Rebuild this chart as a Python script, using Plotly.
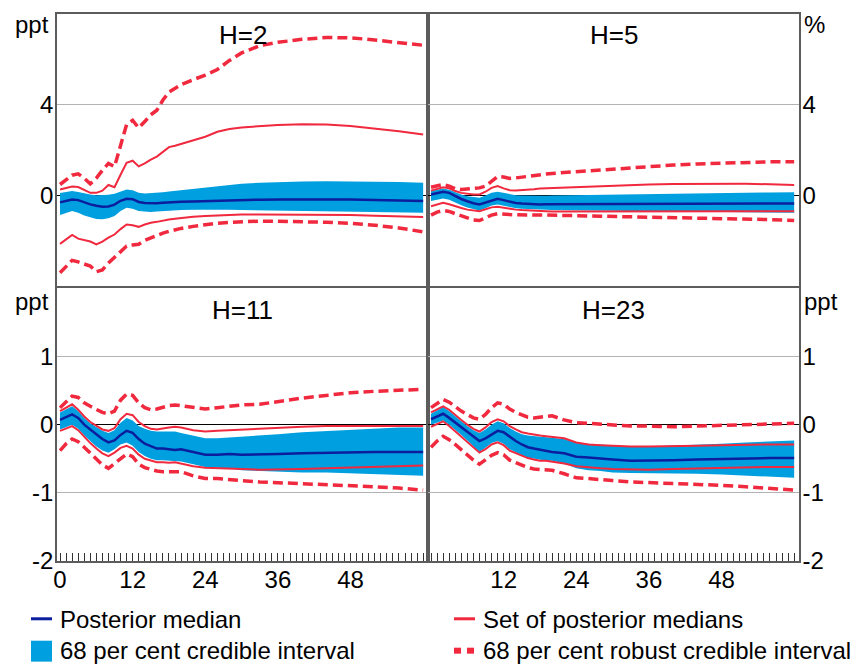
import plotly.graph_objects as go

# ---------------- data (months after shock) ----------------
MONTHS = [0, 1, 2, 3, 4, 5, 6, 7, 8, 9, 10, 11, 12, 13, 14, 15, 16, 17, 18, 19, 20,
          22, 24, 26, 28, 30, 33, 36, 40, 44, 48, 52, 56, 60]

PANEL_TITLES = ["H=2", "H=5", "H=11", "H=23"]
X_TICKS = [0, 12, 24, 36, 48]
TOP_Y_TICKS = [0, 4]
BOT_Y_TICKS = [-2, -1, 0, 1]

# H=2
h2_median = [-0.32,-0.25,-0.19,-0.22,-0.32,-0.41,-0.47,-0.51,-0.50,-0.42,-0.25,-0.16,-0.18,-0.30,-0.35,-0.37,-0.36,-0.34,-0.32,-0.30,-0.29, -0.28,-0.26,-0.24,-0.22,-0.21,-0.20,-0.19,-0.18,-0.18,-0.19,-0.21,-0.23,-0.26]
h2_band_hi = [0.09,0.14,0.18,0.14,0.08,0.03,0.00,0.00,0.02,0.06,0.15,0.25,0.22,0.10,0.07,0.08,0.10,0.13,0.16,0.19,0.22, 0.26,0.31,0.38,0.45,0.50,0.55,0.58,0.60,0.61,0.61,0.60,0.58,0.55]
h2_band_lo = [-0.88,-0.78,-0.70,-0.78,-0.90,-0.98,-1.05,-1.07,-1.02,-0.92,-0.70,-0.56,-0.60,-0.70,-0.73,-0.74,-0.72,-0.70,-0.68,-0.67,-0.66, -0.65,-0.64,-0.64,-0.65,-0.66,-0.67,-0.68,-0.69,-0.70,-0.72,-0.74,-0.76,-0.78]
h2_set_hi = [0.25,0.32,0.38,0.36,0.22,0.10,0.10,0.20,0.45,0.35,0.90,1.43,1.52,1.27,1.40,1.57,1.70,1.90,2.12,2.18,2.26, 2.42,2.58,2.80,2.92,2.99,3.05,3.10,3.13,3.12,3.05,2.95,2.82,2.68]
h2_set_lo = [-2.15,-1.95,-1.76,-1.92,-2.00,-2.05,-2.18,-2.05,-1.88,-1.74,-1.50,-1.30,-1.33,-1.40,-1.30,-1.22,-1.18,-1.12,-1.08,-1.04,-1.00, -0.95,-0.92,-0.89,-0.87,-0.86,-0.85,-0.85,-0.85,-0.86,-0.88,-0.91,-0.94,-0.97]
h2_rob_hi = [0.47,0.70,0.88,0.94,0.75,0.50,0.75,1.10,1.40,1.26,2.20,3.12,3.30,2.97,3.25,3.55,3.75,4.20,4.55,4.72,4.88, 5.10,5.30,5.55,5.95,6.28,6.60,6.75,6.88,6.96,6.95,6.85,6.75,6.62]
h2_rob_lo = [-3.43,-3.15,-2.88,-2.95,-3.05,-3.13,-3.38,-3.30,-3.00,-2.76,-2.50,-2.25,-2.20,-2.17,-2.00,-1.88,-1.78,-1.68,-1.60,-1.53,-1.47, -1.38,-1.30,-1.24,-1.20,-1.17,-1.15,-1.15,-1.17,-1.20,-1.25,-1.33,-1.45,-1.62]

# H=5
h5_median = [0.03,0.10,0.15,0.10,-0.05,-0.17,-0.27,-0.36,-0.41,-0.33,-0.22,-0.16,-0.22,-0.30,-0.35,-0.37,-0.39,-0.40,-0.41,-0.40,-0.40, -0.40,-0.39,-0.38,-0.38,-0.38,-0.37,-0.37,-0.37,-0.37,-0.37,-0.37,-0.37,-0.37]
h5_band_hi = [0.18,0.24,0.29,0.24,0.12,0.03,-0.05,-0.10,-0.12,-0.02,0.10,0.15,0.09,0.03,0.00,-0.02,-0.03,-0.04,-0.04,-0.03,-0.02, -0.01,0.00,0.01,0.02,0.03,0.04,0.05,0.06,0.08,0.09,0.11,0.12,0.13]
h5_band_lo = [-0.26,-0.20,-0.15,-0.20,-0.33,-0.45,-0.55,-0.63,-0.68,-0.58,-0.46,-0.41,-0.47,-0.54,-0.58,-0.60,-0.62,-0.63,-0.64,-0.65,-0.66, -0.67,-0.68,-0.68,-0.69,-0.69,-0.70,-0.70,-0.71,-0.72,-0.74,-0.75,-0.77,-0.78]
h5_set_hi = [0.20,0.28,0.35,0.30,0.18,0.10,0.06,0.03,0.03,0.15,0.32,0.40,0.30,0.22,0.20,0.21,0.23,0.26,0.29,0.30,0.31, 0.33,0.35,0.38,0.41,0.43,0.45,0.47,0.49,0.50,0.50,0.50,0.48,0.45]
h5_set_lo = [-0.49,-0.40,-0.34,-0.40,-0.50,-0.57,-0.64,-0.69,-0.71,-0.62,-0.54,-0.51,-0.56,-0.62,-0.64,-0.66,-0.68,-0.70,-0.71,-0.71,-0.72, -0.72,-0.73,-0.73,-0.72,-0.72,-0.71,-0.70,-0.70,-0.70,-0.70,-0.71,-0.71,-0.71]
h5_rob_hi = [0.35,0.42,0.47,0.40,0.28,0.25,0.27,0.30,0.32,0.40,0.60,0.82,0.80,0.74,0.76,0.80,0.84,0.88,0.91,0.93,0.96, 1.00,1.04,1.08,1.12,1.14,1.20,1.27,1.33,1.38,1.42,1.46,1.47,1.47]
h5_rob_lo = [-0.88,-0.75,-0.68,-0.72,-0.82,-0.92,-1.02,-1.10,-1.12,-1.00,-0.88,-0.82,-0.85,-0.86,-0.87,-0.88,-0.88,-0.88,-0.88,-0.88,-0.89, -0.90,-0.91,-0.92,-0.93,-0.94,-0.95,-0.97,-0.99,-1.00,-1.02,-1.05,-1.08,-1.12]

# H=11
h11_median = [0.07,0.11,0.15,0.10,0.00,-0.07,-0.14,-0.21,-0.26,-0.23,-0.15,-0.09,-0.12,-0.21,-0.28,-0.32,-0.35,-0.35,-0.36,-0.37,-0.36, -0.40,-0.44,-0.44,-0.43,-0.44,-0.44,-0.43,-0.42,-0.41,-0.40,-0.40,-0.40,-0.40]
h11_band_hi = [0.18,0.23,0.27,0.20,0.10,0.02,-0.04,-0.09,-0.12,-0.08,0.03,0.10,0.06,-0.02,-0.06,-0.09,-0.10,-0.10,-0.11,-0.10,-0.12, -0.16,-0.20,-0.20,-0.19,-0.17,-0.16,-0.14,-0.11,-0.09,-0.07,-0.05,-0.04,-0.04]
h11_band_lo = [-0.07,-0.03,0.00,-0.06,-0.16,-0.24,-0.32,-0.38,-0.41,-0.36,-0.29,-0.26,-0.31,-0.40,-0.46,-0.50,-0.52,-0.52,-0.53,-0.53,-0.54, -0.58,-0.62,-0.63,-0.64,-0.67,-0.68,-0.69,-0.70,-0.70,-0.71,-0.72,-0.74,-0.75]
h11_set_hi = [0.20,0.25,0.30,0.22,0.12,0.04,-0.02,-0.07,-0.09,-0.05,0.08,0.16,0.14,0.04,-0.02,-0.06,-0.07,-0.05,-0.04,-0.03,-0.04, -0.08,-0.10,-0.09,-0.08,-0.07,-0.06,-0.05,-0.03,-0.02,-0.02,-0.02,-0.02,-0.02]
h11_set_lo = [-0.09,-0.05,-0.02,-0.08,-0.18,-0.27,-0.35,-0.42,-0.46,-0.41,-0.34,-0.31,-0.35,-0.44,-0.50,-0.53,-0.55,-0.55,-0.56,-0.55,-0.57, -0.61,-0.63,-0.64,-0.64,-0.65,-0.66,-0.66,-0.65,-0.64,-0.63,-0.62,-0.61,-0.60]
h11_rob_hi = [0.25,0.34,0.42,0.40,0.32,0.27,0.22,0.18,0.16,0.20,0.36,0.45,0.43,0.32,0.25,0.22,0.23,0.26,0.28,0.29,0.28, 0.25,0.23,0.25,0.27,0.29,0.30,0.34,0.39,0.43,0.47,0.49,0.51,0.52]
h11_rob_lo = [-0.38,-0.28,-0.21,-0.25,-0.33,-0.42,-0.51,-0.59,-0.64,-0.57,-0.49,-0.43,-0.47,-0.58,-0.63,-0.66,-0.68,-0.69,-0.69,-0.68,-0.69, -0.75,-0.79,-0.79,-0.80,-0.82,-0.84,-0.85,-0.87,-0.88,-0.89,-0.91,-0.93,-0.96]

# H=23
h23_median = [0.08,0.12,0.16,0.10,0.03,-0.04,-0.11,-0.18,-0.24,-0.20,-0.14,-0.09,-0.11,-0.18,-0.24,-0.29,-0.33,-0.35,-0.37,-0.39,-0.40, -0.42,-0.47,-0.48,-0.49,-0.51,-0.53,-0.53,-0.52,-0.51,-0.50,-0.49,-0.49,-0.49]
h23_band_hi = [0.16,0.21,0.26,0.20,0.12,0.05,-0.02,-0.08,-0.12,-0.07,0.00,0.05,0.02,-0.05,-0.10,-0.14,-0.16,-0.17,-0.18,-0.19,-0.19, -0.21,-0.27,-0.28,-0.29,-0.31,-0.32,-0.32,-0.31,-0.30,-0.28,-0.26,-0.25,-0.23]
h23_band_lo = [0.00,0.03,0.06,0.00,-0.07,-0.15,-0.23,-0.32,-0.40,-0.34,-0.27,-0.24,-0.28,-0.36,-0.41,-0.45,-0.48,-0.50,-0.52,-0.53,-0.53, -0.57,-0.64,-0.67,-0.68,-0.70,-0.71,-0.71,-0.72,-0.72,-0.73,-0.75,-0.77,-0.78]
h23_set_hi = [0.18,0.23,0.27,0.22,0.14,0.07,0.00,-0.06,-0.10,-0.04,0.04,0.08,0.05,-0.02,-0.07,-0.11,-0.13,-0.15,-0.16,-0.17,-0.18, -0.20,-0.26,-0.29,-0.30,-0.31,-0.32,-0.32,-0.32,-0.31,-0.30,-0.29,-0.29,-0.29]
h23_set_lo = [-0.03,0.01,0.05,-0.02,-0.10,-0.18,-0.26,-0.34,-0.41,-0.36,-0.29,-0.26,-0.30,-0.38,-0.42,-0.46,-0.49,-0.51,-0.53,-0.53,-0.54, -0.57,-0.61,-0.63,-0.64,-0.65,-0.66,-0.66,-0.65,-0.64,-0.63,-0.63,-0.62,-0.62]
h23_rob_hi = [0.25,0.31,0.37,0.33,0.26,0.20,0.15,0.10,0.08,0.15,0.25,0.32,0.30,0.23,0.18,0.14,0.11,0.10,0.11,0.13,0.13, 0.07,0.03,0.02,0.01,0.00,-0.02,-0.02,-0.03,-0.02,-0.01,0.00,0.01,0.02]
h23_rob_lo = [-0.33,-0.24,-0.17,-0.22,-0.29,-0.37,-0.45,-0.52,-0.58,-0.51,-0.45,-0.41,-0.44,-0.52,-0.56,-0.60,-0.63,-0.65,-0.66,-0.67,-0.67, -0.72,-0.78,-0.79,-0.80,-0.82,-0.84,-0.85,-0.86,-0.87,-0.89,-0.91,-0.93,-0.96]

LEGEND_LABELS = ["Posterior median", "68 per cent credible interval",
                 "Set of posterior medians", "68 per cent robust credible interval"]

# ---------------- style ----------------
OFF = 8                      # page body margin in the browser
W, H = 863 - OFF, 666 - OFF  # figure size so the whole page fits the window
ML, MR, MT, MB = 57 - OFF, 64, 12 - OFF, 105
FONT = "Arial, Liberation Sans, Helvetica, sans-serif"
C_BAND = "#009FDF"
C_MED = "#0B1E9E"
C_RED = "#F0293E"
C_FRAME = "#5c5c5c"
C_GRID = "#b3b3b3"


def px(x):
    """window pixel x -> paper fraction"""
    return (x - OFF - ML) / (W - ML - MR)


def py(y):
    """window pixel y -> paper fraction"""
    return (H - MB - (y - OFF)) / (H - MT - MB)


fig = go.Figure()

panels = [
    (h2_median, h2_band_lo, h2_band_hi, h2_set_lo, h2_set_hi, h2_rob_lo, h2_rob_hi),
    (h5_median, h5_band_lo, h5_band_hi, h5_set_lo, h5_set_hi, h5_rob_lo, h5_rob_hi),
    (h11_median, h11_band_lo, h11_band_hi, h11_set_lo, h11_set_hi, h11_rob_lo, h11_rob_hi),
    (h23_median, h23_band_lo, h23_band_hi, h23_set_lo, h23_set_hi, h23_rob_lo, h23_rob_hi),
]

for i, (med, blo, bhi, slo, shi, rlo, rhi) in enumerate(panels):
    xa = "x" if i == 0 else f"x{i+1}"
    ya = "y" if i == 0 else f"y{i+1}"
    common = dict(x=MONTHS, xaxis=xa, yaxis=ya, showlegend=False, hoverinfo="skip")
    fig.add_trace(go.Scatter(y=blo, mode="lines", line=dict(width=0, color=C_BAND), **common))
    fig.add_trace(go.Scatter(y=bhi, mode="lines", line=dict(width=0, color=C_BAND),
                             fill="tonexty", fillcolor=C_BAND, **common))
    for s in (slo, shi):
        fig.add_trace(go.Scatter(y=s, mode="lines", line=dict(width=2, color=C_RED), **common))
    for s in (rlo, rhi):
        fig.add_trace(go.Scatter(y=s, mode="lines",
                                 line=dict(width=3.5, color=C_RED, dash="10px,5px"), **common))
    fig.add_trace(go.Scatter(y=med, mode="lines", line=dict(width=2.5, color=C_MED), **common))

TOP_DOM = [py(284.7), 1.0]
BOT_DOM = [0.0, py(287.4)]

axis_font = dict(family=FONT, size=24, color="black")

xbase = dict(range=[-0.5, 60.8], showline=True, mirror=True, linecolor=C_FRAME, linewidth=1.5,
             showgrid=False, zeroline=False, tickfont=axis_font)
ybase = dict(showline=True, mirror=True, linecolor=C_FRAME, linewidth=1.5, ticks="",
             showgrid=True, gridcolor=C_GRID, gridwidth=1, zeroline=True, zerolinecolor="black",
             zerolinewidth=1, tickfont=axis_font, ticklabelstandoff=-3, tickmode="array")

layout_axes = {}
layout_axes["xaxis"] = dict(xbase, domain=[0, 0.5], anchor="y", showticklabels=False, ticks="")
layout_axes["xaxis2"] = dict(xbase, domain=[0.5, 1], anchor="y2", showticklabels=False, ticks="")
for name, dom, anc, txt in (("xaxis3", [0, 0.5], "y3", [str(v) for v in X_TICKS]),
                            ("xaxis4", [0.5, 1], "y4", [""] + [str(v) for v in X_TICKS[1:]])):
    layout_axes[name] = dict(xbase, domain=dom, anchor=anc, tickmode="array", tickvals=X_TICKS,
                             ticktext=txt, ticks="inside", ticklen=8, tickwidth=1, tickcolor="#333333",
                             ticklabelstandoff=-4,
                             minor=dict(tickmode="array", tickvals=list(range(0, 61)), ticks="inside",
                                        ticklen=8, tickwidth=1, tickcolor="#333333", showgrid=False))
top_txt = [str(v) for v in TOP_Y_TICKS]
bot_txt = [str(v) for v in BOT_Y_TICKS]  # plain hyphen minus as in the original
layout_axes["yaxis"] = dict(ybase, domain=TOP_DOM, anchor="x", range=[-4, 8],
                            tickvals=TOP_Y_TICKS, ticktext=top_txt, side="left")
layout_axes["yaxis2"] = dict(ybase, domain=TOP_DOM, anchor="x2", range=[-4, 8],
                             tickvals=TOP_Y_TICKS, ticktext=top_txt, side="right")
layout_axes["yaxis3"] = dict(ybase, domain=BOT_DOM, anchor="x3", range=[-2, 2],
                             tickvals=BOT_Y_TICKS, ticktext=bot_txt, side="left")
layout_axes["yaxis4"] = dict(ybase, domain=BOT_DOM, anchor="x4", range=[-2, 2],
                             tickvals=BOT_Y_TICKS, ticktext=bot_txt, side="right")

annotations = []
for title, cx, cy in zip(PANEL_TITLES, (242.5, 613.5, 242.5, 613.5), (33.5, 33.5, 309, 309)):
    annotations.append(dict(text=title, x=px(cx), y=py(cy), xref="paper", yref="paper",
                            xanchor="center", yanchor="middle", showarrow=False,
                            font=dict(family=FONT, size=26, color="black")))
for txt, x, y, anc in (("ppt", 51, 23, "right"), ("%", 802, 23, "left"),
                       ("ppt", 51, 301, "right"), ("ppt", 802, 301, "left")):
    annotations.append(dict(text=txt, x=px(x), y=py(y), xref="paper", yref="paper",
                            xanchor=anc, yanchor="middle", showarrow=False, font=axis_font))
for txt, x, y in zip(LEGEND_LABELS, (58, 58, 481, 481), (620, 651, 620, 651)):
    annotations.append(dict(text=txt, x=px(x), y=py(y), xref="paper", yref="paper",
                            xanchor="left", yanchor="middle", showarrow=False, font=axis_font))

shapes = [
    dict(type="line", xref="paper", yref="paper", x0=px(31), x1=px(52), y0=py(619), y1=py(619),
         line=dict(color=C_MED, width=3)),
    dict(type="rect", xref="paper", yref="paper", x0=px(31), x1=px(52), y0=py(641), y1=py(662),
         line=dict(width=0), fillcolor=C_BAND),
    dict(type="line", xref="paper", yref="paper", x0=px(454), x1=px(475), y0=py(619), y1=py(619),
         line=dict(color=C_RED, width=3)),
    dict(type="rect", xref="paper", yref="paper", x0=px(454), x1=px(461), y0=py(648), y1=py(654),
         line=dict(width=0), fillcolor=C_RED),
    dict(type="rect", xref="paper", yref="paper", x0=px(467), x1=px(474), y0=py(648), y1=py(654),
         line=dict(width=0), fillcolor=C_RED),
]

fig.update_layout(
    width=W, height=H, autosize=False,
    margin=dict(l=ML, r=MR, t=MT, b=MB),
    paper_bgcolor="white", plot_bgcolor="white",
    font=dict(family=FONT, size=24, color="black"),
    annotations=annotations, shapes=shapes, showlegend=False,
    **layout_axes,
)

fig.write_html("out.html")
